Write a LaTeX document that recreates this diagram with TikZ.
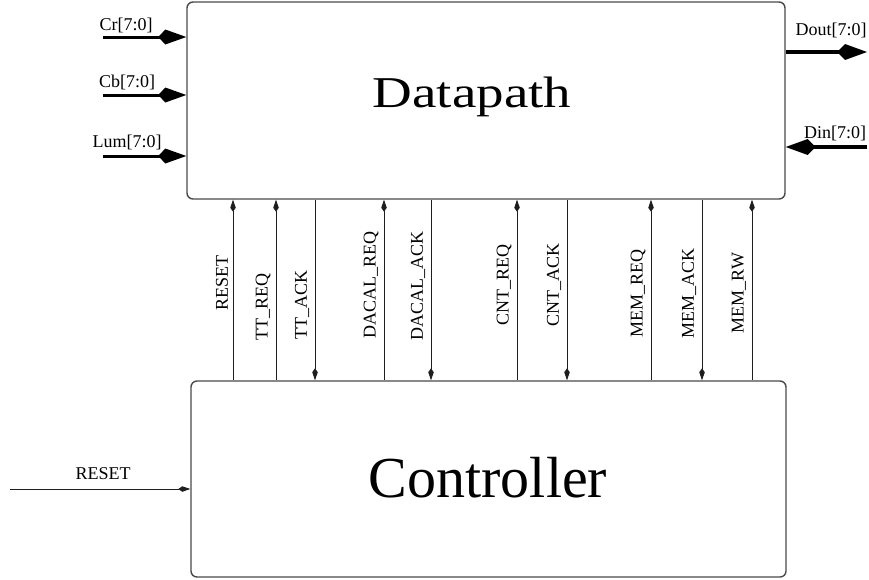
\documentclass[tikz,border=0pt]{standalone}
\usepackage{fontspec}
\setmainfont{Liberation Serif}
\usepackage{tikz}
\usetikzlibrary{arrows.meta, positioning}
\definecolor{Frame}{HTML}{4A4A4A}
\definecolor{Wire}{HTML}{1E1E1E}

\begin{document}
\begin{tikzpicture}[
  x=1pt, y=-1pt,
  block/.style={draw=Frame, line width=1.4pt, rounded corners=6pt, inner sep=0pt},
  bus/.style={-{Kite[length=28pt, width=15pt, inset=7pt]}, line width=3pt, draw=black},
  widebus/.style={-{Kite[length=30pt, width=16pt, inset=8pt]}, line width=4.5pt, draw=black},
  wire/.style={line width=0.9pt, draw=Wire, -{Kite[length=12pt, width=5.5pt, inset=4pt]}},
  port/.style={font=\fontsize{18}{20}\selectfont, inner sep=0pt},
  siglabel/.style={port, rotate=90},
  title/.style={inner sep=0pt, anchor=base}
]
\useasboundingbox (0,0) rectangle (869,579);

% the two blocks
\node[block, minimum width=598pt, minimum height=197pt] (dp) at (486,100.5) {};
\node[block, minimum width=595pt, minimum height=196pt] (ctl) at (488.5,479) {};
\node[title, font=\fontsize{44}{46}\selectfont, xscale=1.25] (dptitle) at (472,107) {Datapath};
\node[title, font=\fontsize{58}{60}\selectfont] (ctltitle) at (488,497) {Controller};

% pixel buses into the datapath
\coordinate (cr) at (103,37);
\coordinate (cb) at (103,95);
\coordinate (lum) at (103,156);
\draw[bus] (cr) -- (cr -| dp.west);
\draw[bus] (cb) -- (cb -| dp.west);
\draw[bus] (lum) -- (lum -| dp.west);
\node[port] (crlabel) at (126,25) {Cr[7:0]};
\node[port] (cblabel) at (127,82) {Cb[7:0]};
\node[port] (lumlabel) at (127,142) {Lum[7:0]};

% memory data buses
\coordinate (dout) at (867,52);
\coordinate (din) at (867,147);
\draw[widebus] (dout -| dp.east) -- (dout);
\draw[widebus] (din) -- (din -| dp.east);
\node[port] (doutlabel) at (831,30) {Dout[7:0]};
\node[port] (dinlabel) at (835,133) {Din[7:0]};

% handshake lines between the blocks
\coordinate (rst) at (233,290);
\coordinate (ttreq) at (276,290);
\coordinate (ttack) at (315,290);
\coordinate (dreq) at (384,290);
\coordinate (dack) at (431,290);
\coordinate (creq) at (517,290);
\coordinate (cack) at (567,290);
\coordinate (mreq) at (651,290);
\coordinate (mack) at (702,290);
\coordinate (mrw) at (752,290);

\draw[wire] (rst |- ctl.north) -- (rst |- dp.south);
\draw[wire] (ttreq |- ctl.north) -- (ttreq |- dp.south);
\draw[wire] (ttack |- dp.south) -- (ttack |- ctl.north);
\draw[wire] (dreq |- ctl.north) -- (dreq |- dp.south);
\draw[wire] (dack |- dp.south) -- (dack |- ctl.north);
\draw[wire] (creq |- ctl.north) -- (creq |- dp.south);
\draw[wire] (cack |- dp.south) -- (cack |- ctl.north);
\draw[wire] (mreq |- ctl.north) -- (mreq |- dp.south);
\draw[wire] (mack |- dp.south) -- (mack |- ctl.north);
\draw[wire] (mrw |- ctl.north) -- (mrw |- dp.south);

\node[siglabel] (rstlabel) at (222,283) {RESET};
\node[siglabel] (ttreqlabel) at (263,307) {TT\_REQ};
\node[siglabel] (ttacklabel) at (302,305) {TT\_ACK};
\node[siglabel] (dreqlabel) at (371,285) {DACAL\_REQ};
\node[siglabel] (dacklabel) at (418,286) {DACAL\_ACK};
\node[siglabel] (creqlabel) at (504,285) {CNT\_REQ};
\node[siglabel] (cacklabel) at (554,285) {CNT\_ACK};
\node[siglabel] (mreqlabel) at (638,293) {MEM\_REQ};
\node[siglabel] (macklabel) at (689,293) {MEM\_ACK};
\node[siglabel] (mrwlabel) at (739,293) {MEM\_RW};

% external reset into the controller
\coordinate (extrst) at (10,489);
\draw[wire] (extrst) -- (extrst -| ctl.west);
\node[port] (extrstlabel) at (103,474) {RESET};
\end{tikzpicture}
\end{document}
